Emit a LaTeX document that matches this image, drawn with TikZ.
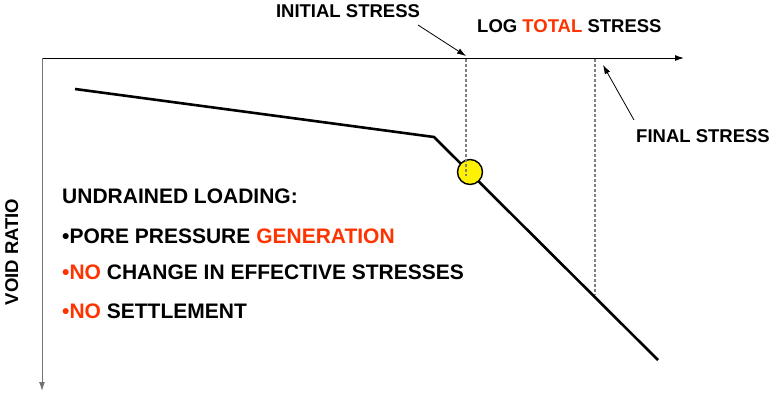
\documentclass[tikz,border=0pt]{standalone}
\usepackage{fontspec}
\setmainfont{Liberation Sans}
\usetikzlibrary{arrows.meta}
\definecolor{hot}{HTML}{FF3300}
\tikzset{label/.style={font=\bfseries\fontsize{18.5}{18.5}\selectfont,inner sep=0pt,anchor=base west}}
\tikzset{bigtext/.style={label,font=\bfseries\fontsize{21}{21}\selectfont}}
\tikzset{pointer/.style={-{Latex[length=9pt,width=6pt]},line width=0.8pt}}
\tikzset{guide/.style={gray,dash pattern=on 3pt off 2pt,line width=1.2pt}}
\tikzset{axis/.style={-{Latex[length=9pt,width=6pt]},line width=1pt}}

\begin{document}
\begin{tikzpicture}[x=1pt,y=-1pt]
    \useasboundingbox (0,0) rectangle (772,397);
    \coordinate (o) at (42,58);
    \coordinate (xend) at (684,58);
    \coordinate (yend) at (42,391);
    \coordinate (c0) at (75,89);
    \coordinate (c1) at (434,137);
    \coordinate (c2) at (658,360);
    \coordinate (i0) at (466,59);
    \coordinate (i1) at (466,176);
    \coordinate (f0) at (595,59);
    \coordinate (f1) at (595,295);
    \draw[axis] (o) -- (xend);
    \draw[axis,black!55] (o) -- (yend);
    \draw[guide] (i0) -- (i1);
    \draw[guide] (f0) -- (f1);
    \draw[line width=2.6pt] (c0) -- (c1) -- (c2);
    \node[circle,draw,fill=yellow,line width=1.4pt,minimum size=25pt,inner sep=0pt] (pt) at (470,172) {};
    \draw[guide] (pt.north -| i0) -- (i1);
    \node[label,anchor=base] (init) at (348,17) {INITIAL STRESS};
    \node[label] (xlab) at (477,32) {LOG \textcolor{hot}{TOTAL} STRESS};
    \node[label] (fin) at (636,142) {FINAL STRESS};
    \node[label,rotate=90,anchor=base] (ylab) at (18,252) {VOID RATIO};
    \coordinate (ia) at (418,25);
    \coordinate (ib) at (466,56);
    \coordinate (fa) at (634,120);
    \coordinate (fb) at (603,65);
    \draw[pointer] (ia) -- (ib);
    \draw[pointer] (fa) -- (fb);
    \node[bigtext] (t1) at (62,203) {UNDRAINED LOADING:};
    \node[bigtext] (t2) at (62,243) {•PORE PRESSURE \textcolor{hot}{GENERATION}};
    \node[bigtext] (t3) at (62,279) {\textcolor{hot}{•NO} CHANGE IN EFFECTIVE STRESSES};
    \node[bigtext] (t4) at (62,318) {\textcolor{hot}{•NO} SETTLEMENT};
  \end{tikzpicture}
\end{document}
